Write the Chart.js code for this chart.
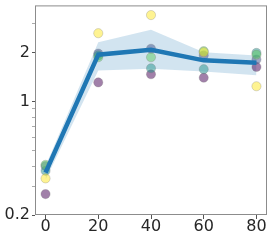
<!DOCTYPE html>
<html>
<head>
<meta charset="utf-8">
<script src="https://cdn.jsdelivr.net/npm/chart.js@4"></script>
<style>
    html, body { margin: 0; padding: 0; background: #fff; }
    #box { width: 274px; height: 240px; }
</style>
</head>
<body>
<div id="box"><canvas id="grafico"></canvas></div>
<script>
// valores
const tempos = [0, 20, 40, 60, 80];
const media = [0.365, 1.94, 2.08, 1.79, 1.73];
const bandaSup = [0.40, 2.31, 2.76, 2.01, 1.92];
const bandaInf = [0.33, 1.55, 1.59, 1.53, 1.45];

const roxo = [0.269, 1.31, 1.47, 1.40, 1.63];
const azul = [0.40, 1.97, 2.11, 1.92, 1.81];
const verdeAgua = [0.374, 1.92, 1.60, 1.58, 1.99];
const verde = [0.407, 1.87, 1.87, 2.04, 1.94];
const amarelo = [0.336, 2.63, 3.40, 2.01, 1.24];

const ticksX = [0, 20, 40, 60, 80];
const ticksY = [0.2, 0.3, 0.4, 0.5, 0.6, 0.7, 0.8, 0.9, 1, 2, 3];
const rotulosY = [0.2, 1, 2];

function pontos(valores) {
    return tempos.map((t, i) => ({ x: t, y: valores[i] }));
}

// cada grupo de pontos (o primeiro fica por cima)
function grupo(valores, cor) {
    return {
        type: 'scatter',
        data: pontos(valores),
        backgroundColor: cor,
        borderColor: 'rgba(120,120,120,0.35)',
        borderWidth: 0.8,
        pointRadius: 4.6,
        pointHoverRadius: 4.6
    };
}

// moldura em volta da área do gráfico
const moldura = {
    id: 'moldura',
    afterDraw(chart) {
        const a = chart.chartArea;
        const ctx = chart.ctx;
        ctx.save();
        ctx.strokeStyle = '#8c8c8c';
        ctx.lineWidth = 1;
        ctx.strokeRect(a.left + 0.5, a.top + 0.5, a.right - a.left - 1, a.bottom - a.top - 1);
        ctx.restore();
    }
};

const fonte = { family: 'DejaVu Sans', size: 16 };

new Chart(document.getElementById('grafico'), {
    type: 'line',
    data: {
        datasets: [
            {
                type: 'line',
                data: pontos(media),
                borderColor: '#1f77b4',
                borderWidth: 4.5,
                pointRadius: 0,
                fill: false,
                tension: 0
            },
            grupo(amarelo, 'rgba(253,231,37,0.5)'),
            grupo(verde, 'rgba(94,201,98,0.5)'),
            grupo(verdeAgua, 'rgba(33,145,140,0.5)'),
            grupo(azul, 'rgba(59,82,139,0.5)'),
            grupo(roxo, 'rgba(68,1,84,0.5)'),
            {
                type: 'line',
                data: pontos(bandaSup),
                borderWidth: 0,
                borderColor: 'rgba(0,0,0,0)',
                pointRadius: 0,
                fill: false
            },
            {
                type: 'line',
                data: pontos(bandaInf),
                borderWidth: 0,
                borderColor: 'rgba(0,0,0,0)',
                pointRadius: 0,
                fill: '-1',
                backgroundColor: 'rgba(31,119,180,0.2)'
            }
        ]
    },
    options: {
        responsive: true,
        maintainAspectRatio: false,
        animation: false,
        layout: { padding: { top: 4, right: 7, left: 0, bottom: 0 } },
        plugins: {
            legend: { display: false },
            tooltip: { enabled: false }
        },
        scales: {
            x: {
                type: 'linear',
                min: -4,
                max: 84,
                afterBuildTicks: (s) => { s.ticks = ticksX.map(v => ({ value: v })); },
                afterFit: (s) => { s.height = 25; s.paddingLeft = 0; s.paddingRight = 0; },
                grid: { drawOnChartArea: false, tickLength: 4, tickColor: '#555' },
                border: { display: false },
                ticks: { font: fonte, color: '#262626', padding: -2, maxRotation: 0 }
            },
            y: {
                type: 'logarithmic',
                min: 0.2,
                max: 3.9,
                afterBuildTicks: (s) => { s.ticks = ticksY.map(v => ({ value: v })); },
                afterFit: (s) => { s.width = 35; s.paddingTop = 0; s.paddingBottom = 0; },
                grid: {
                    drawOnChartArea: false,
                    tickLength: 3,
                    tickColor: (c) => rotulosY.includes(c.tick.value) ? '#555' : '#aaa'
                },
                border: { display: false },
                ticks: {
                    font: fonte,
                    color: '#262626',
                    padding: 2,
                    autoSkip: false,
                    callback: (v) => rotulosY.includes(v) ? String(v) : ''
                }
            }
        }
    },
    plugins: [moldura]
});
</script>
</body>
</html>
